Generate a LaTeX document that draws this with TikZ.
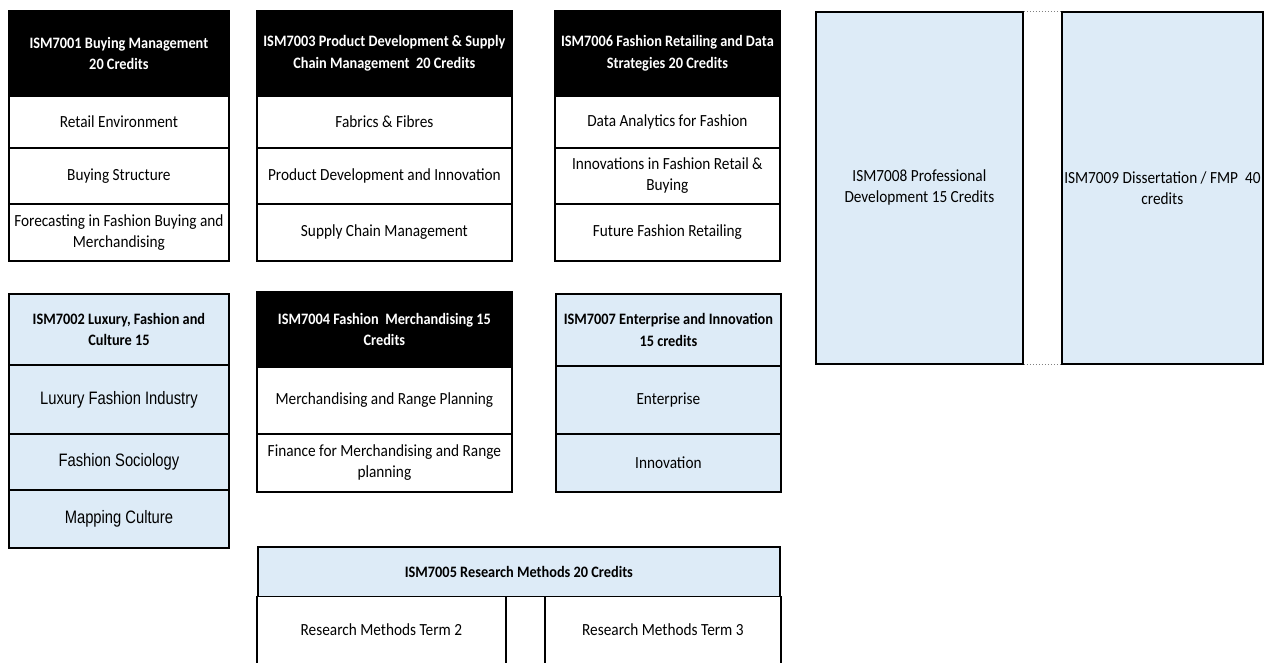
\documentclass[tikz,border=0pt]{standalone}
\usepackage{fontspec}
\setmainfont{Carlito}[FakeStretch=0.9]
\newfontfamily\narrowfont{Liberation Sans}[FakeStretch=0.82]
\definecolor{lblue}{HTML}{DDEBF7}
\tikzset{
  cell/.style={draw=black, line width=1.8pt, anchor=north west, inner sep=0pt, align=center,
    font=\fontsize{17}{21}\selectfont},
  sz/.style 2 args={minimum width=#1pt, minimum height=#2pt},
  hdr/.style={cell, fill=black, text=white, font=\fontsize{15.9}{21.5}\selectfont\bfseries},
  bhdr/.style={cell, fill=lblue, font=\fontsize{15.9}{21.5}\selectfont\bfseries},
  wc/.style={cell, fill=white},
  bc/.style={cell, fill=lblue},
  nc/.style={cell, fill=lblue, font=\narrowfont\fontsize{18}{22}\selectfont},
  fc/.style={cell, draw=none, fill=white},
  edge/.style={draw=black, line width=1.8pt},
  dots/.style={draw=gray, dotted, line width=1pt}
}
\begin{document}
\begin{tikzpicture}[x=1pt,y=-1pt]
\useasboundingbox[fill=white] (0,0) rectangle (1270,662);
% ISM7001
\node[hdr, sz={220}{85}] (a0) at (8,10) {ISM7001 Buying Management\\20 Credits};
\node[wc, sz={220}{52}] (a1) at (8,95) {Retail Environment};
\node[wc, sz={220}{56}] (a2) at (8,147) {Buying Structure};
\node[wc, sz={220}{57}] (a3) at (8,203) {Forecasting in Fashion Buying and\\Merchandising};
% ISM7003
\node[hdr, sz={255}{85}] (b0) at (256,10) {ISM7003 Product Development \& Supply\\Chain Management\ \ 20 Credits};
\node[wc, sz={255}{52}] (b1) at (256,95) {Fabrics \& Fibres};
\node[wc, sz={255}{56}] (b2) at (256,147) {Product Development and Innovation};
\node[wc, sz={255}{57}] (b3) at (256,203) {Supply Chain Management};
% ISM7006
\node[hdr, sz={225}{85}] (c0) at (554,10) {ISM7006 Fashion Retailing and Data\\Strategies 20 Credits};
\node[wc, sz={225}{52}] (c1) at (554,95) {Data Analytics for Fashion};
\node[wc, sz={225}{56}] (c2) at (554,147) {Innovations in Fashion Retail \&\\Buying};
\node[wc, sz={225}{57}] (c3) at (554,203) {Future Fashion Retailing};
% ISM7002
\node[bhdr, sz={220}{71}] (d0) at (8,293) {ISM7002 Luxury, Fashion and\\Culture 15};
\node[nc, sz={220}{69}] (d1) at (8,364) {Luxury Fashion Industry};
\node[nc, sz={220}{56}] (d2) at (8,433) {Fashion Sociology};
\node[nc, sz={220}{58}] (d3) at (8,489) {Mapping Culture};
% ISM7004
\node[hdr, sz={255}{75}] (e0) at (256,291) {ISM7004 Fashion\ \ Merchandising 15\\Credits};
\node[wc, sz={255}{67}] (e1) at (256,366) {Merchandising and Range Planning};
\node[wc, sz={255}{58}] (e2) at (256,433) {Finance for Merchandising and Range\\planning};
% ISM7007
\node[bhdr, sz={225}{72}] (f0) at (555,293) {ISM7007 Enterprise and Innovation\\15 credits};
\node[bc, sz={225}{68}] (f1) at (555,365) {Enterprise};
\node[bc, sz={225}{58}] (f2) at (555,433) {Innovation};
% ISM7005
\node[bhdr, sz={522}{50}] (g0) at (257,546) {ISM7005 Research Methods 20 Credits};
\node[fc, sz={247}{66}] (g1) at (257,596) {Research Methods Term 2};
\node[fc, sz={41}{66}] (g2) at (504,596) {};
\node[fc, sz={234}{66}] (g3) at (545,596) {Research Methods Term 3};
\draw[edge] (g1.north west) -- (g1.south west);
\draw[edge] (g1.north east) -- (g1.south east);
\draw[edge] (g3.north west) -- (g3.south west);
\draw[edge] (g3.north east) -- (g3.south east);
% ISM7008 / ISM7009
\node[bc, sz={207}{352}] (h) at (815,11) {ISM7008 Professional\\Development 15 Credits};
\node[bc, sz={201}{352}] (i) at (1061,11) {ISM7009 Dissertation / FMP\ \ 40\\credits};
\draw[dots] (h.north east) -- (i.north west);
\draw[dots] (h.south east) -- (i.south west);
\end{tikzpicture}
\end{document}
